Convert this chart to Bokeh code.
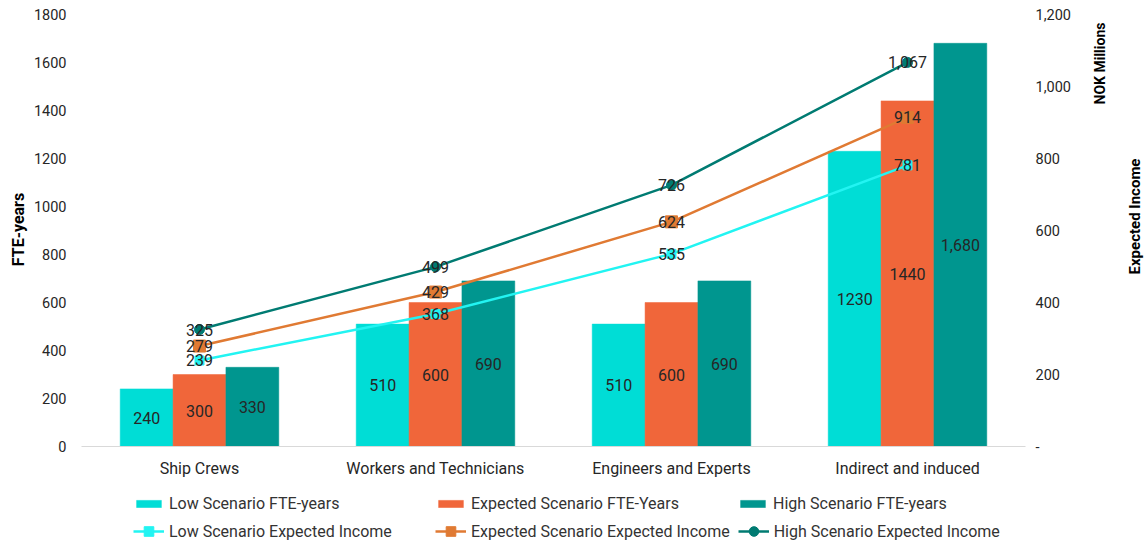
from math import pi

from bokeh.core.properties import value
from bokeh.embed import file_html
from bokeh.models import (ColumnDataSource, Label, Legend, LegendItem,
                          LinearAxis, Range1d)
from bokeh.plotting import figure
from bokeh.resources import INLINE
from bokeh.transform import dodge

# ---- data -------------------------------------------------------------
categories = ["Ship Crews", "Workers and Technicians",
              "Engineers and Experts", "Indirect and induced"]

fte_low = [240, 510, 510, 1230]
fte_expected = [300, 600, 600, 1440]
fte_high = [330, 690, 690, 1680]

income_low = [239, 368, 535, 781]
income_expected = [279, 429, 624, 914]
income_high = [325, 499, 726, 1067]

left_ticks = [0, 200, 400, 600, 800, 1000, 1200, 1400, 1600, 1800]
right_ticks = [0, 200, 400, 600, 800, 1000, 1200]

# ---- style -------------------------------------------------------------
FONT = "Roboto"
TEXT = "#262626"
C_LOW_BAR, C_EXP_BAR, C_HIGH_BAR = "#00DDD6", "#F0663A", "#00968F"
C_LOW_LINE, C_EXP_LINE, C_HIGH_LINE = "#22F4F2", "#E07A33", "#007B72"

# The plotting frame fills the whole canvas; axes are pinned with
# fixed_location so the legend rows and axis titles sit inside the frame.
W, H = 1146, 543
AX_LEFT, AX_RIGHT, AX_TOP, AX_ZERO = 81, 1025, 14, 446
n = len(categories)
px_per_cat = (AX_RIGHT - AX_LEFT) / n
px_per_fte = (AX_ZERO - AX_TOP) / left_ticks[-1]
px_per_inc = (AX_ZERO - AX_TOP) / right_ticks[-1]

x0 = -0.5 - AX_LEFT / px_per_cat
x1 = -0.5 + (W - AX_LEFT) / px_per_cat
xs = list(range(n))

src = ColumnDataSource(dict(
    x=xs,
    fte_low=fte_low, fte_expected=fte_expected, fte_high=fte_high,
    fte_low_txt=[str(v) for v in fte_low],
    fte_expected_txt=[str(v) for v in fte_expected],
    fte_high_txt=[f"{v:,}" for v in fte_high],
    fte_low_mid=[v / 2 for v in fte_low],
    fte_expected_mid=[v / 2 for v in fte_expected],
    fte_high_mid=[v / 2 for v in fte_high],
    inc_low=income_low, inc_expected=income_expected, inc_high=income_high,
    inc_low_txt=[f"{v:,}" for v in income_low],
    inc_expected_txt=[f"{v:,}" for v in income_expected],
    inc_high_txt=[f"{v:,}" for v in income_high],
))

p = figure(
    width=W, height=H,
    x_range=Range1d(x0, x1),
    y_range=Range1d(-(H - AX_ZERO) / px_per_fte, AX_ZERO / px_per_fte),
    output_backend="svg", toolbar_location=None,
    min_border=0, outline_line_color=None,
)
p.extra_y_ranges = {"income": Range1d(-(H - AX_ZERO) / px_per_inc,
                                      AX_ZERO / px_per_inc)}
p.xgrid.visible = False
p.ygrid.visible = False


def plain_axis(ax, size="14.5px"):
    ax.axis_line_color = None
    ax.major_tick_line_color = None
    ax.minor_tick_line_color = None
    ax.major_tick_out = 0
    ax.major_tick_in = 0
    ax.minor_tick_out = 0
    ax.minor_tick_in = 0
    ax.major_label_text_font = FONT
    ax.major_label_text_font_size = size
    ax.major_label_text_color = TEXT


# ---- axes --------------------------------------------------------------
yax = p.yaxis[0]
plain_axis(yax)
yax.ticker = left_ticks
yax.bounds = (left_ticks[0], left_ticks[-1])
yax.fixed_location = -0.5
yax.major_label_standoff = 15

xax = p.xaxis[0]
plain_axis(xax, "16px")
xax.ticker = xs
xax.major_label_overrides = dict(zip(xs, categories))
xax.bounds = (-0.5, n - 0.5)
xax.fixed_location = 0
xax.axis_line_color = "#D9D9D9"
xax.axis_line_width = 1
xax.major_label_standoff = 12

right = LinearAxis(y_range_name="income", ticker=right_ticks,
                   bounds=(right_ticks[0], right_ticks[-1]),
                   fixed_location=n - 0.5)
plain_axis(right)
right.major_label_overrides = {t: ("-" if t == 0 else f"{t:,}") for t in right_ticks}
right.major_label_standoff = 10
p.add_layout(right, "right")

# ---- axis titles (rotated, read bottom-to-top) --------------------------
title_kw = dict(x_units="screen", y_units="screen", angle=pi / 2,
                text_align="center", text_baseline="middle",
                text_font=FONT, text_font_style="bold", text_color="#000000")
p.add_layout(Label(x=18, y=H - 229, text="FTE-years",
                   text_font_size="16px", **title_kw))
p.add_layout(Label(x=1099, y=H - 63, text="NOK Millions",
                   text_font_size="14px", **title_kw))
p.add_layout(Label(x=1134, y=H - 216, text="Expected Income",
                   text_font_size="15px", **title_kw))

# ---- bars --------------------------------------------------------------
bw = 0.224
bar_specs = [("fte_low", -bw, C_LOW_BAR), ("fte_expected", 0.0, C_EXP_BAR),
             ("fte_high", bw, C_HIGH_BAR)]
bar_renderers = []
for field, off, color in bar_specs:
    r = p.vbar(x=dodge("x", off), top=field, width=bw, source=src,
               fill_color=color, line_color=color, line_width=0.5)
    bar_renderers.append(r)

# ---- lines -------------------------------------------------------------
line_specs = [("inc_low", C_LOW_LINE, "square", 9),
              ("inc_expected", C_EXP_LINE, "square", 12),
              ("inc_high", C_HIGH_LINE, "circle", 10)]
line_renderers = []
for field, color, marker, size in line_specs:
    ln = p.line(x="x", y=field, source=src, line_color=color, line_width=2.5,
                y_range_name="income")
    mk = p.scatter(x="x", y=field, source=src, marker=marker, size=size,
                   fill_color=color, line_color=color, y_range_name="income")
    line_renderers.append([ln, mk])

# ---- value labels ------------------------------------------------------
for field, off, _ in bar_specs:
    p.text(x=dodge("x", off), y=f"{field}_mid", text=f"{field}_txt",
           source=src, text_align="center", text_baseline="middle",
           text_font=value(FONT), text_font_size="16px", text_color=TEXT)

for field, _, _, _ in line_specs:
    p.text(x="x", y=field, text=f"{field}_txt", source=src,
           text_align="center", text_baseline="middle", text_font=value(FONT),
           text_font_size="16px", text_color=TEXT, y_range_name="income")

# ---- legends: bars on the first row, lines on the second ---------------
legend_kw = dict(
    orientation="horizontal", border_line_color=None, background_fill_alpha=0,
    label_text_font=FONT, label_text_font_size="16px", label_text_color="#333333",
    glyph_width=31, label_standoff=5, label_width=258, label_height=20,
    spacing=8, padding=0, margin=0,
)
bar_legend = Legend(items=[
    LegendItem(label="Low Scenario FTE-years", renderers=[bar_renderers[0]]),
    LegendItem(label="Expected Scenario FTE-Years", renderers=[bar_renderers[1]]),
    LegendItem(label="High Scenario FTE-years", renderers=[bar_renderers[2]]),
], glyph_height=9, location=(133, 30), **legend_kw)
line_legend = Legend(items=[
    LegendItem(label="Low Scenario Expected Income", renderers=line_renderers[0]),
    LegendItem(label="Expected Scenario Expected Income", renderers=line_renderers[1]),
    LegendItem(label="High Scenario Expected Income", renderers=line_renderers[2]),
], glyph_height=24, location=(133, 0), **legend_kw)
p.add_layout(bar_legend, "center")
p.add_layout(line_legend, "center")

open("out.html", "w").write(file_html(p, INLINE))
